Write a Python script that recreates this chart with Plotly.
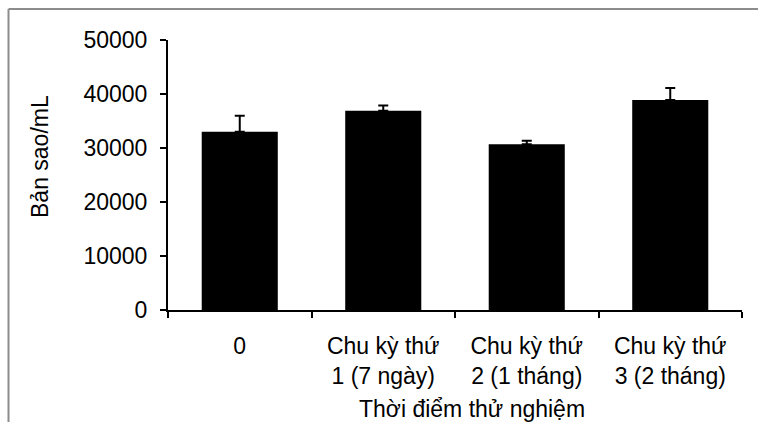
import plotly.graph_objects as go

# Copy number per mL at each test point (mean and upper error)
categories = ["0", "Chu kỳ thứ<br>1 (7 ngày)", "Chu kỳ thứ<br>2 (1 tháng)", "Chu kỳ thứ<br>3 (2 tháng)"]
copies_per_ml = [33000, 36900, 30700, 38900]
error_upper = [2950, 950, 650, 2200]
y_ticks = [0, 10000, 20000, 30000, 40000, 50000]

FONT = "Liberation Sans, Arial, sans-serif"
FS = 23

fig = go.Figure(
    go.Bar(
        x=categories,
        y=copies_per_ml,
        width=0.53,
        marker=dict(color="black", line=dict(width=0)),
        error_y=dict(
            type="data",
            symmetric=False,
            array=error_upper,
            arrayminus=[0] * len(error_upper),
            color="black",
            thickness=2,
            width=5,
        ),
    )
)

# plot area spans 168..742 px horizontally and 40..310 px vertically
L, R, T, B = 168, 16, 40, 112
W, H = 758, 422
pw, ph = W - L - R, H - T - B


def px_x(px):
    return (px - L) / pw


def px_y(py):
    return (H - B - py) / ph


fig.update_layout(
    width=W,
    height=H,
    margin=dict(l=L, r=R, t=T, b=B, pad=0),
    paper_bgcolor="white",
    plot_bgcolor="white",
    showlegend=False,
    font=dict(family=FONT, size=FS, color="black"),
    xaxis=dict(
        type="category",
        range=[-0.5, 3.5],
        showline=True,
        linecolor="black",
        linewidth=2,
        ticks="outside",
        tickson="boundaries",
        ticklen=6,
        tickwidth=2,
        tickcolor="black",
        showgrid=False,
        zeroline=False,
        ticklabelstandoff=14,
        tickfont=dict(family=FONT, size=FS, color="black"),
    ),
    yaxis=dict(
        range=[0, 50000],
        tickvals=y_ticks,
        ticktext=[str(v) for v in y_ticks],
        showline=True,
        linecolor="black",
        linewidth=2,
        ticks="outside",
        ticklen=6,
        tickwidth=2,
        tickcolor="black",
        showgrid=False,
        zeroline=False,
        ticklabelstandoff=8,
        tickfont=dict(family=FONT, size=FS, color="black"),
    ),
    annotations=[
        dict(
            text="Bản sao/mL",
            xref="paper",
            yref="paper",
            x=px_x(40),
            y=px_y(157),
            textangle=-90,
            showarrow=False,
            font=dict(family=FONT, size=FS, color="black"),
            xanchor="center",
            yanchor="middle",
        ),
        dict(
            text="Thời điểm thử nghiệm",
            xref="paper",
            yref="paper",
            x=px_x(472),
            y=px_y(409),
            showarrow=False,
            font=dict(family=FONT, size=FS, color="black"),
            xanchor="center",
            yanchor="middle",
        ),
    ],
    shapes=[
        # chart frame (top and left edges)
        dict(type="line", xref="paper", yref="paper",
             x0=px_x(8.5), y0=px_y(9), x1=px_x(760), y1=px_y(9),
             line=dict(color="#8c8c8c", width=2)),
        dict(type="line", xref="paper", yref="paper",
             x0=px_x(8.5), y0=px_y(9), x1=px_x(8.5), y1=px_y(424),
             line=dict(color="#8c8c8c", width=2)),
    ],
)

fig.write_html("out.html")
